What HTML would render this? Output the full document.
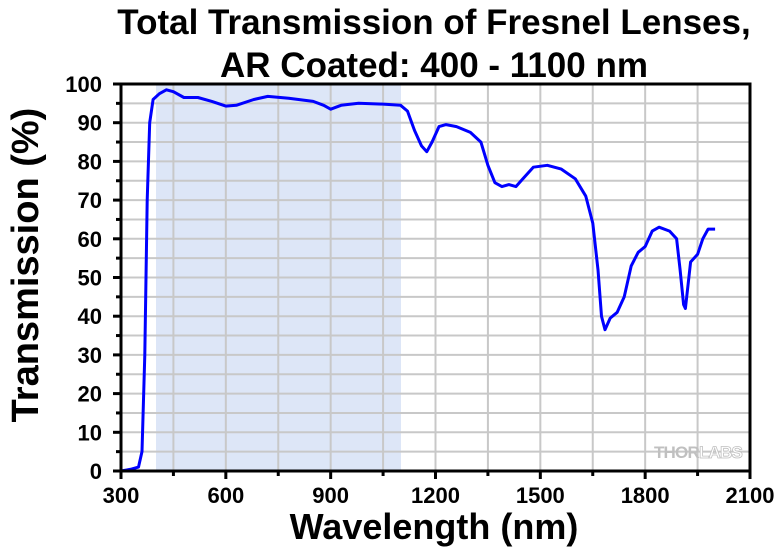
<!DOCTYPE html>
<html><head><meta charset="utf-8"><style>
body{margin:0;background:#fff;width:780px;height:554px;overflow:hidden}
svg text{font-family:"Liberation Sans",Arial,sans-serif;font-weight:bold}
</style></head><body>
<svg id="s" width="780" height="554" xmlns="http://www.w3.org/2000/svg">
<text x="434" y="34" font-size="35" text-anchor="middle">Total Transmission of Fresnel Lenses,</text>
<text x="434" y="77" font-size="35" text-anchor="middle">AR Coated: 400 - 1100 nm</text>
<rect x="156" y="84" width="245" height="387" fill="#dde6f7"/>
<g id="grid" stroke="#c8c8c8" stroke-width="2"></g>
<text x="698" y="458" font-size="17" fill="#c0c0c0" text-anchor="middle" style="letter-spacing:-0.8px">THOR<tspan fill="#fff" stroke="#c0c0c0" stroke-width="0.8">LABS</tspan></text>
<path id="curve" fill="none" stroke="#0000ff" stroke-width="3" stroke-linejoin="round"/>
<rect x="121" y="84" width="629" height="387" fill="none" stroke="#000" stroke-width="3"/>
<g id="ticks" stroke="#000" stroke-width="3"></g>
<g id="labs" font-size="22"></g>
<text x="434" y="539" font-size="36" text-anchor="middle">Wavelength (nm)</text>
<text transform="translate(38,265) rotate(-90)" font-size="38" text-anchor="middle">Transmission (%)</text>
</svg>
<script>
var X=function(w){return 121+(w-300)*629/1800},Y=function(t){return 471-t*3.87};
var g=document.getElementById('grid'),tk=document.getElementById('ticks'),lb=document.getElementById('labs'),h='',t='',l='';
for(var w=450;w<2100;w+=150){h+='<line x1="'+X(w)+'" y1="84" x2="'+X(w)+'" y2="471"/>';}
for(var v=5;v<100;v+=5){h+='<line x1="121" y1="'+Y(v)+'" x2="750" y2="'+Y(v)+'"/>';}
for(var w=300;w<=2100;w+=150){var maj=(w%300==0);t+='<line x1="'+X(w)+'" y1="471" x2="'+X(w)+'" y2="'+(471+(maj?8:5))+'"/>';if(maj)l+='<text x="'+X(w)+'" y="503" text-anchor="middle">'+w+'</text>';}
for(var v=0;v<=100;v+=5){var maj=(v%10==0);t+='<line x1="121" y1="'+Y(v)+'" x2="'+(121-(maj?8:5))+'" y2="'+Y(v)+'"/>';if(maj)l+='<text x="102" y="'+(Y(v)+8)+'" text-anchor="end">'+v+'</text>';}
g.innerHTML=h;tk.innerHTML=t;lb.innerHTML=l;
var d=[[300,0],[330,0.5],[350,1],[360,5],[368,30],[375,70],[382,90],[392,96],[410,97.5],[430,98.5],[450,98],[480,96.5],[520,96.5],[560,95.5],[600,94.3],[630,94.5],[680,96],[720,96.8],[780,96.3],[850,95.5],[880,94.5],[900,93.5],[930,94.5],[980,95],[1050,94.8],[1100,94.5],[1120,93],[1140,88],[1160,84],[1175,82.5],[1190,85],[1210,89],[1230,89.5],[1260,89],[1300,87.5],[1330,85],[1350,79],[1370,74.5],[1390,73.5],[1410,74],[1430,73.5],[1450,75.5],[1480,78.5],[1520,79],[1560,78],[1600,75.5],[1630,71],[1650,64],[1665,52],[1675,40],[1685,36.5],[1700,39.5],[1720,41],[1740,45],[1760,53],[1780,56.5],[1800,58],[1820,62],[1840,63],[1870,62],[1890,60],[1900,52],[1910,43],[1915,42],[1930,54],[1950,56],[1965,60],[1980,62.5],[2000,62.5]];
document.getElementById('curve').setAttribute('d','M'+d.map(function(p){return X(p[0]).toFixed(1)+','+Y(p[1]).toFixed(1)}).join(' L'));
</script>
</body></html>
